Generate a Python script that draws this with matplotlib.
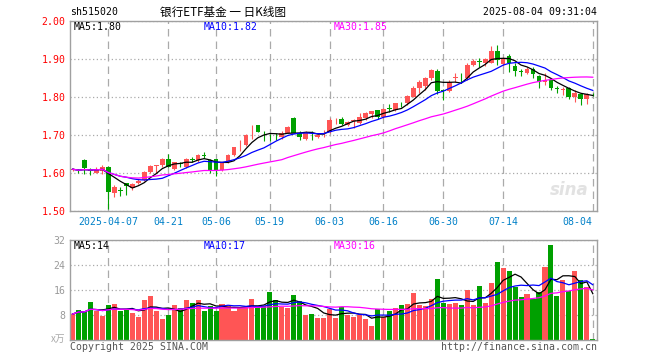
import matplotlib
matplotlib.use('Agg')
from matplotlib import pyplot as plt
import numpy as np
import pandas as pd

W, H = 660, 360

# trading days shown (2025-03-27 .. 2025-08-04, holidays removed)
holidays = ['2025-04-04', '2025-05-01', '2025-05-02', '2025-05-05', '2025-06-02']
dates = pd.bdate_range('2025-03-27', '2025-08-04')
dates = dates[~dates.isin(pd.to_datetime(holidays))]

opens = [1.609, 1.606, 1.634, 1.607, 1.601, 1.604, 1.615, 1.548, 1.555, 1.573,
         1.560, 1.573, 1.582, 1.603, 1.619, 1.620, 1.636, 1.611, 1.626, 1.615,
         1.637, 1.634, 1.648, 1.634, 1.636, 1.608, 1.630, 1.647, 1.673, 1.674,
         1.712, 1.726, 1.705, 1.695, 1.698, 1.694, 1.706, 1.746, 1.704, 1.689,
         1.705, 1.694, 1.705, 1.709, 1.739, 1.741, 1.726, 1.738, 1.731, 1.744,
         1.755, 1.766, 1.748, 1.771, 1.766, 1.782, 1.783, 1.801, 1.823, 1.829,
         1.849, 1.869, 1.819, 1.817, 1.851, 1.859, 1.849, 1.884, 1.894, 1.889,
         1.889, 1.922, 1.887, 1.908, 1.882, 1.868, 1.864, 1.873, 1.855, 1.840,
         1.846, 1.824, 1.819, 1.823, 1.801, 1.808, 1.796, 1.806]
highs = [1.614, 1.610, 1.636, 1.612, 1.617, 1.621, 1.618, 1.568, 1.562, 1.575,
         1.573, 1.584, 1.604, 1.621, 1.621, 1.639, 1.650, 1.630, 1.630, 1.639,
         1.641, 1.650, 1.654, 1.636, 1.637, 1.630, 1.650, 1.669, 1.687, 1.703,
         1.726, 1.727, 1.711, 1.703, 1.706, 1.711, 1.724, 1.747, 1.711, 1.711,
         1.711, 1.703, 1.713, 1.746, 1.746, 1.748, 1.737, 1.741, 1.757, 1.761,
         1.764, 1.767, 1.770, 1.782, 1.785, 1.788, 1.806, 1.829, 1.845, 1.853,
         1.873, 1.875, 1.820, 1.845, 1.862, 1.862, 1.889, 1.899, 1.902, 1.902,
         1.934, 1.937, 1.906, 1.913, 1.889, 1.875, 1.878, 1.878, 1.858, 1.864,
         1.848, 1.829, 1.826, 1.826, 1.818, 1.810, 1.810, 1.810]
lows = [1.605, 1.599, 1.598, 1.594, 1.599, 1.597, 1.506, 1.536, 1.539, 1.542,
        1.555, 1.571, 1.580, 1.599, 1.599, 1.617, 1.615, 1.608, 1.617, 1.612,
        1.628, 1.630, 1.639, 1.599, 1.593, 1.606, 1.627, 1.646, 1.659, 1.671,
        1.689, 1.708, 1.685, 1.685, 1.688, 1.689, 1.704, 1.704, 1.687, 1.687,
        1.687, 1.691, 1.694, 1.706, 1.729, 1.726, 1.724, 1.718, 1.729, 1.739,
        1.746, 1.741, 1.746, 1.761, 1.764, 1.773, 1.779, 1.799, 1.810, 1.818,
        1.845, 1.808, 1.792, 1.814, 1.840, 1.836, 1.845, 1.881, 1.878, 1.881,
        1.889, 1.884, 1.882, 1.867, 1.854, 1.855, 1.860, 1.849, 1.823, 1.832,
        1.818, 1.811, 1.805, 1.796, 1.788, 1.779, 1.782, 1.803]
closes = [1.610, 1.605, 1.612, 1.605, 1.610, 1.615, 1.551, 1.562, 1.553, 1.566,
          1.571, 1.580, 1.603, 1.618, 1.620, 1.636, 1.617, 1.628, 1.625, 1.636,
          1.635, 1.647, 1.646, 1.608, 1.608, 1.630, 1.647, 1.668, 1.674, 1.700,
          1.713, 1.709, 1.704, 1.694, 1.697, 1.706, 1.722, 1.706, 1.696, 1.706,
          1.704, 1.700, 1.706, 1.739, 1.740, 1.729, 1.735, 1.739, 1.748, 1.757,
          1.764, 1.748, 1.768, 1.769, 1.783, 1.781, 1.803, 1.825, 1.840, 1.849,
          1.871, 1.817, 1.816, 1.840, 1.852, 1.857, 1.884, 1.896, 1.892, 1.899,
          1.922, 1.897, 1.899, 1.889, 1.869, 1.866, 1.873, 1.861, 1.840, 1.846,
          1.825, 1.822, 1.820, 1.801, 1.810, 1.796, 1.808, 1.805]
volumes = [8.3, 9.6, 9.1, 12.3, 9.4, 7.8, 11.2, 11.6, 9.3, 9.6,
           8.8, 7.4, 12.9, 14.2, 9.4, 6.7, 8.0, 11.2, 10.2, 12.9,
           11.8, 12.9, 9.4, 10.9, 9.4, 11.6, 10.9, 9.4, 10.6, 10.7,
           13.1, 10.8, 10.8, 15.5, 12.8, 10.6, 10.4, 14.4, 12.6, 8.0,
           8.3, 7.2, 7.2, 9.9, 7.2, 10.6, 8.0, 7.5, 8.0, 6.8,
           4.6, 9.9, 7.3, 9.4, 10.4, 11.1, 11.5, 15.1, 11.2, 10.9,
           13.1, 19.5, 11.9, 11.5, 11.8, 11.2, 16.0, 11.2, 17.3, 11.8,
           18.3, 25.0, 23.0, 22.1, 16.9, 13.8, 14.7, 13.0, 15.5, 23.4,
           30.5, 14.1, 19.2, 15.6, 22.1, 19.2, 16.9, 0.3]

tick_dates = ['2025-04-07', '2025-04-21', '2025-05-06', '2025-05-19', '2025-06-03',
              '2025-06-16', '2025-06-30', '2025-07-14', '2025-08-04']
tick_labels = ['2025-04-07', '04-21', '05-06', '05-19', '06-03',
               '06-16', '06-30', '07-14', '08-04']
price_ticks = [1.50, 1.60, 1.70, 1.80, 1.90, 2.00]
vol_ticks = [8, 16, 24, 32]

RED = '#ff5555'
GREEN = '#00a000'
MA_COLORS = {5: 'black', 10: '#0000ff', 30: '#ff00ff'}
FRAME = '#a0a0a0'
GRID = '#aaaaaa'
MONO = 'DejaVu Sans Mono'
FS = 7.1


def fx(px):
    return px / W


def fy(py):
    return 1 - py / H


x = np.arange(len(dates))
o, h, l, c = map(np.array, (opens, highs, lows, closes))
v = np.array(volumes)
colors = np.where(c >= o, RED, GREEN)
ticks_x = [dates.get_loc(pd.Timestamp(d)) for d in tick_dates]

fig = plt.figure(figsize=(W / 100, H / 100), dpi=100)
ax1 = fig.add_axes([fx(70), fy(211), (597 - 70) / W, (211 - 21) / H])
ax2 = fig.add_axes([fx(70), fy(340), (597 - 70) / W, (340 - 240) / H])

for ax in (ax1, ax2):
    ax.set_xlim(-0.42, 87.7)
    for s in ax.spines.values():
        s.set_color(FRAME)
        s.set_linewidth(1.0)
    ax.set_xticks(ticks_x)
    ax.xaxis.grid(True, color=GRID, linewidth=0.9, linestyle=(0, (6, 4)))
    ax.yaxis.grid(True, color=GRID, linewidth=0.9, linestyle=(0, (1, 2)))
    ax.set_axisbelow(True)
    ax.tick_params(length=0)

# candles
ax1.vlines(x, l, h, colors=colors, linewidth=0.8)
body = np.maximum(np.abs(c - o), 0.0015)
ax1.bar(x, body, bottom=np.minimum(o, c), width=0.8, color=colors, linewidth=0)

close_s = pd.Series(closes)
vol_s = pd.Series(volumes)
price_ma = {n: close_s.rolling(n, min_periods=1).mean() for n in (5, 10, 30)}
vol_ma = {n: vol_s.rolling(n, min_periods=1).mean() for n in (5, 10, 30)}
for n, col in MA_COLORS.items():
    ax1.plot(x, price_ma[n], color=col, linewidth=0.9)
    ax2.plot(x, vol_ma[n], color=col, linewidth=0.9)

ax1.set_ylim(1.50, 2.00)
ax1.set_yticks(price_ticks)
ax1.set_yticklabels([f'{p:.2f}' for p in price_ticks], color='red',
                    family=MONO, fontsize=FS)
ax1.tick_params(axis='y', pad=3.2)
ax1.set_xticklabels(tick_labels, color='#0080c8', family=MONO, fontsize=FS)
ax1.tick_params(axis='x', pad=4.5)
ax1.get_xticklabels()[-1].set_horizontalalignment('right')
ax1.text(83, 1.556, 'sina', color='#e2e2e2', fontsize=12, style='italic',
         fontweight='bold', ha='center', va='center', zorder=0)

# volume
ax2.bar(x, v, width=0.85, color=colors, linewidth=0)
ax2.set_ylim(0, 32)
ax2.set_yticks(vol_ticks)
ax2.set_yticklabels([str(t) for t in vol_ticks], color='#999999',
                    family=MONO, fontsize=FS)
ax2.tick_params(axis='y', pad=3.2)
ax2.set_xticklabels([])

# header texts
fig.text(fx(70), fy(12), 'sh515020', family=MONO, fontsize=FS, va='center')
fig.text(fx(223), fy(12), '银行ETF基金 一 日K线图', family=['Noto Sans CJK SC', 'DejaVu Sans'],
         fontsize=8.4, ha='center', va='center')
fig.text(fx(597), fy(12), '2025-08-04 09:31:04', family=MONO, fontsize=FS,
         ha='right', va='center')

ma_x = {5: 74, 10: 204, 30: 334}
for n, col in MA_COLORS.items():
    fig.text(fx(ma_x[n]), fy(26.5), f'MA{n}:{price_ma[n].iloc[-1]:.2f}', color=col,
             family=MONO, fontsize=FS, va='center')
    fig.text(fx(ma_x[n]), fy(246), f'MA{n}:{int(vol_ma[n].iloc[-1])}', color=col,
             family=MONO, fontsize=FS, va='center')

fig.text(fx(65.5), fy(339), 'x万', color='#aaaaaa', family=['Noto Sans CJK SC', 'DejaVu Sans'],
         fontsize=7, ha='right', va='center')
fig.text(fx(70), fy(347), 'Copyright 2025 SINA.COM', color='#555555', family=MONO,
         fontsize=FS, va='center')
fig.text(fx(597), fy(347), 'http://finance.sina.com.cn', color='#555555', family=MONO,
         fontsize=FS, ha='right', va='center')

fig.savefig('out.png', dpi=100)
